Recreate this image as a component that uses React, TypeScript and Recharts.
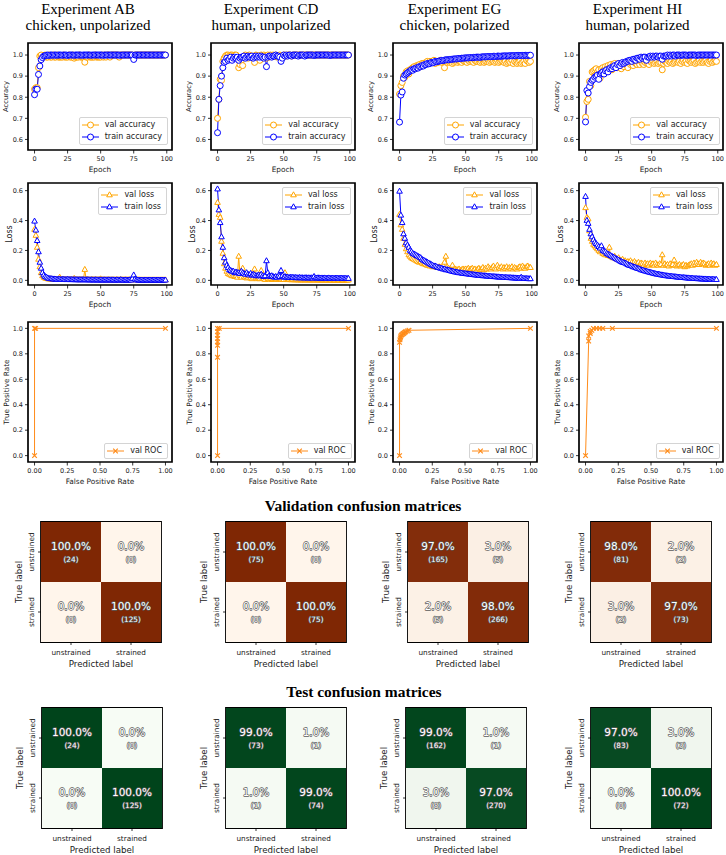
import React from "react";
import {
  LineChart,
  Line,
  XAxis,
  YAxis,
  Legend,
  ReferenceArea,
  BarChart,
  Bar,
  Cell,
  LabelList,
} from "recharts";

const FONT = "'DejaVu Sans', sans-serif";
const SERIF = "'Liberation Serif', 'Times New Roman', serif";
const VAL_COLOR = "#ffa500";
const TRAIN_COLOR = "#0000ff";
const ROC_COLOR = "#ff8c1a";

const experimentTitles = ["Experiment AB", "Experiment CD", "Experiment EG", "Experiment HI"];
const experimentSubtitles = ["chicken, unpolarized", "human, unpolarized", "chicken, polarized", "human, polarized"];

const epochTicks = [0, 25, 50, 75, 100];
const accuracyTicks = [0.6, 0.7, 0.8, 0.9, 1.0];
const lossTicks = [0, 0.2, 0.4, 0.6];
const tprTicks = [0, 0.2, 0.4, 0.6, 0.8, 1.0];
const fprTicks = [0, 0.25, 0.5, 0.75, 1.0];
const matrixLabels = ["unstrained", "strained"];

// ---- Experiment AB ----
const abValAcc = [
  0.838, 0.845, 0.845, 0.94, 0.995, 1.0, 0.99, 0.99, 1.0, 0.99,
  0.99, 1.0, 0.99, 0.99, 1.0, 0.99, 0.99, 1.0, 0.99, 0.99,
  0.99, 0.99, 1.0, 0.99, 0.99, 0.99, 1.0, 0.99, 0.99, 1.0,
  0.985, 0.99, 0.99, 0.99, 1.0, 0.99, 0.99, 0.99, 0.966, 0.99,
  0.99, 1.0, 0.99, 0.99, 0.99, 0.99, 1.0, 0.99, 0.99, 0.99,
  0.99, 1.0, 0.99, 1.0, 0.99, 1.0, 1.0, 0.99, 1.0, 1.0,
  1.0, 1.0, 1.0, 1.0, 0.99, 1.0, 1.0, 1.0, 1.0, 1.0,
  1.0, 1.0, 1.0, 1.0, 1.0, 0.99, 1.0, 1.0, 1.0, 1.0,
  1.0, 1.0, 1.0, 1.0, 1.0, 1.0, 1.0, 1.0, 1.0, 1.0,
  1.0, 1.0, 1.0, 1.0, 1.0, 1.0, 1.0, 1.0, 1.0, 1.0,
];
const abTrainAcc = [
  0.812, 0.838, 0.838, 0.908, 0.948, 0.978, 0.988, 0.995, 0.997, 0.999,
  1.0, 0.998, 1.0, 1.0, 0.999, 1.0, 1.0, 0.999, 1.0, 1.0,
  1.0, 0.999, 1.0, 1.0, 1.0, 0.998, 1.0, 1.0, 1.0, 1.0,
  0.999, 1.0, 1.0, 1.0, 1.0, 1.0, 0.999, 1.0, 1.0, 1.0,
  1.0, 1.0, 1.0, 0.999, 1.0, 1.0, 1.0, 1.0, 1.0, 1.0,
  1.0, 1.0, 0.999, 1.0, 1.0, 1.0, 1.0, 1.0, 1.0, 1.0,
  1.0, 1.0, 1.0, 1.0, 1.0, 0.999, 1.0, 1.0, 1.0, 1.0,
  1.0, 1.0, 1.0, 1.0, 1.0, 0.979, 1.0, 1.0, 1.0, 1.0,
  1.0, 1.0, 1.0, 1.0, 1.0, 1.0, 1.0, 1.0, 1.0, 1.0,
  1.0, 1.0, 1.0, 1.0, 1.0, 1.0, 1.0, 1.0, 1.0, 1.0,
];
const abValLoss = [
  0.34, 0.3, 0.22, 0.14, 0.09, 0.05, 0.03, 0.02, 0.015, 0.012,
  0.01, 0.008, 0.009, 0.008, 0.007, 0.008, 0.006, 0.007, 0.006, 0.02,
  0.008, 0.006, 0.006, 0.006, 0.005, 0.006, 0.005, 0.006, 0.005, 0.005,
  0.012, 0.005, 0.005, 0.004, 0.004, 0.005, 0.004, 0.005, 0.072, 0.006,
  0.005, 0.004, 0.004, 0.004, 0.005, 0.004, 0.004, 0.004, 0.004, 0.004,
  0.009, 0.004, 0.003, 0.004, 0.003, 0.003, 0.004, 0.003, 0.003, 0.003,
  0.003, 0.003, 0.004, 0.003, 0.003, 0.005, 0.003, 0.003, 0.003, 0.003,
  0.003, 0.003, 0.003, 0.003, 0.003, 0.01, 0.004, 0.003, 0.003, 0.003,
  0.002, 0.002, 0.002, 0.002, 0.002, 0.002, 0.002, 0.002, 0.002, 0.002,
  0.002, 0.002, 0.002, 0.002, 0.002, 0.002, 0.002, 0.002, 0.002, 0.002,
];
const abTrainLoss = [
  0.395, 0.335, 0.265, 0.19, 0.12, 0.08, 0.05, 0.035, 0.025, 0.02,
  0.015, 0.012, 0.01, 0.01, 0.008, 0.008, 0.007, 0.006, 0.006, 0.006,
  0.005, 0.006, 0.005, 0.005, 0.004, 0.006, 0.005, 0.004, 0.004, 0.004,
  0.004, 0.003, 0.004, 0.003, 0.003, 0.003, 0.004, 0.003, 0.003, 0.003,
  0.003, 0.003, 0.002, 0.003, 0.002, 0.002, 0.003, 0.002, 0.002, 0.002,
  0.002, 0.002, 0.002, 0.002, 0.002, 0.002, 0.002, 0.002, 0.002, 0.002,
  0.002, 0.001, 0.002, 0.002, 0.001, 0.003, 0.002, 0.001, 0.001, 0.002,
  0.001, 0.001, 0.002, 0.001, 0.012, 0.035, 0.008, 0.002, 0.001, 0.001,
  0.001, 0.001, 0.001, 0.001, 0.001, 0.001, 0.001, 0.001, 0.001, 0.001,
  0.001, 0.001, 0.001, 0.001, 0.001, 0.001, 0.001, 0.001, 0.001, 0.001,
];
const abRocFpr = [0, 0, 0.008, 1];
const abRocTpr = [0, 1, 1, 1];

// ---- Experiment CD ----
const cdValAcc = [
  0.7, 0.79, 0.885, 0.88, 0.97, 0.985, 0.995, 1.0, 1.0, 0.995,
  1.0, 1.0, 0.995, 1.0, 1.0, 0.985, 0.94, 0.955, 0.975, 0.95,
  0.99, 1.0, 0.995, 0.985, 1.0, 0.99, 0.995, 0.99, 0.965, 1.0,
  0.995, 0.99, 0.975, 1.0, 0.99, 1.0, 0.995, 0.985, 1.0, 0.99,
  1.0, 0.995, 1.0, 0.995, 1.0, 0.99, 0.995, 1.0, 0.99, 0.995,
  1.0, 1.0, 0.995, 1.0, 1.0, 1.0, 0.995, 1.0, 1.0, 1.0,
  1.0, 1.0, 1.0, 1.0, 1.0, 1.0, 1.0, 1.0, 1.0, 1.0,
  1.0, 1.0, 1.0, 1.0, 1.0, 1.0, 1.0, 1.0, 1.0, 1.0,
  1.0, 1.0, 1.0, 1.0, 1.0, 1.0, 1.0, 1.0, 1.0, 1.0,
  1.0, 1.0, 1.0, 1.0, 1.0, 1.0, 1.0, 1.0, 1.0, 1.0,
];
const cdTrainAcc = [
  0.632, 0.79, 0.855, 0.9, 0.94, 0.965, 0.97, 0.985, 0.975, 0.98,
  0.99, 0.975, 0.985, 0.99, 0.985, 0.99, 0.975, 0.985, 0.99, 0.99,
  0.995, 0.985, 0.99, 0.995, 0.99, 0.99, 0.995, 0.985, 0.99, 0.995,
  0.99, 0.995, 0.99, 0.995, 0.99, 0.985, 0.99, 0.945, 0.99, 0.995,
  0.995, 0.99, 0.995, 0.995, 1.0, 0.995, 0.995, 0.99, 0.97, 0.985,
  1.0, 0.995, 1.0, 0.995, 1.0, 1.0, 0.995, 1.0, 1.0, 1.0,
  1.0, 0.995, 1.0, 1.0, 1.0, 1.0, 0.995, 1.0, 1.0, 1.0,
  1.0, 1.0, 1.0, 0.998, 1.0, 1.0, 1.0, 1.0, 1.0, 1.0,
  1.0, 1.0, 1.0, 1.0, 1.0, 0.998, 1.0, 1.0, 1.0, 1.0,
  1.0, 1.0, 1.0, 1.0, 1.0, 1.0, 1.0, 1.0, 1.0, 1.0,
];
const cdValLoss = [
  0.52, 0.44, 0.42, 0.26, 0.18, 0.11, 0.08, 0.06, 0.045, 0.04,
  0.035, 0.03, 0.03, 0.025, 0.03, 0.02, 0.16, 0.03, 0.02, 0.08,
  0.025, 0.02, 0.015, 0.02, 0.03, 0.015, 0.01, 0.02, 0.075, 0.015,
  0.01, 0.015, 0.01, 0.065, 0.015, 0.01, 0.005, 0.02, 0.01, 0.008,
  0.01, 0.005, 0.008, 0.01, 0.005, 0.006, 0.01, 0.005, 0.008, 0.005,
  0.005, 0.05, 0.005, 0.004, 0.006, 0.004, 0.003, 0.004, 0.003, 0.003,
  0.003, 0.002, 0.003, 0.002, 0.003, 0.002, 0.002, 0.003, 0.002, 0.002,
  0.002, 0.002, 0.003, 0.002, 0.002, 0.002, 0.002, 0.002, 0.001, 0.002,
  0.002, 0.001, 0.002, 0.001, 0.001, 0.002, 0.001, 0.001, 0.001, 0.001,
  0.001, 0.001, 0.001, 0.001, 0.001, 0.001, 0.001, 0.001, 0.001, 0.001,
];
const cdTrainLoss = [
  0.61, 0.47, 0.385, 0.29, 0.22, 0.15, 0.12, 0.1, 0.085, 0.07,
  0.065, 0.06, 0.06, 0.05, 0.055, 0.05, 0.05, 0.045, 0.06, 0.05,
  0.045, 0.04, 0.05, 0.04, 0.035, 0.045, 0.035, 0.04, 0.035, 0.03,
  0.03, 0.035, 0.03, 0.04, 0.03, 0.025, 0.03, 0.13, 0.05, 0.03,
  0.025, 0.03, 0.025, 0.02, 0.025, 0.02, 0.03, 0.025, 0.065, 0.03,
  0.02, 0.025, 0.02, 0.02, 0.018, 0.02, 0.018, 0.02, 0.017, 0.018,
  0.017, 0.016, 0.018, 0.016, 0.017, 0.015, 0.016, 0.017, 0.015, 0.016,
  0.015, 0.016, 0.015, 0.025, 0.015, 0.014, 0.016, 0.015, 0.014, 0.015,
  0.014, 0.015, 0.014, 0.013, 0.015, 0.014, 0.013, 0.014, 0.013, 0.014,
  0.013, 0.014, 0.013, 0.013, 0.014, 0.013, 0.012, 0.013, 0.012, 0.012,
];
const cdRocFpr = [0, 0, 0, 0, 0, 0, 0, 0, 0.013, 1];
const cdRocTpr = [0, 0.773, 0.867, 0.893, 0.92, 0.947, 0.973, 1, 1, 1];

// ---- Experiment EG ----
const egValAcc = [
  0.815, 0.855, 0.87, 0.9, 0.895, 0.92, 0.925, 0.91, 0.93, 0.935,
  0.94, 0.945, 0.935, 0.95, 0.95, 0.955, 0.945, 0.96, 0.96, 0.955,
  0.965, 0.97, 0.96, 0.97, 0.965, 0.97, 0.975, 0.96, 0.97, 0.965,
  0.97, 0.975, 0.965, 0.97, 0.94, 0.975, 0.965, 0.97, 0.965, 0.97,
  0.96, 0.965, 0.97, 0.975, 0.965, 0.97, 0.97, 0.965, 0.975, 0.97,
  0.97, 0.965, 0.975, 0.97, 0.975, 0.97, 0.965, 0.975, 0.97, 0.97,
  0.975, 0.965, 0.97, 0.975, 0.965, 0.97, 0.97, 0.975, 0.965, 0.97,
  0.975, 0.97, 0.965, 0.97, 0.975, 0.965, 0.97, 0.975, 0.97, 0.965,
  0.97, 0.96, 0.965, 0.97, 0.965, 0.975, 0.96, 0.97, 0.965, 0.96,
  0.965, 0.97, 0.96, 0.965, 0.97, 0.96, 0.975, 0.97, 0.965, 0.97,
];
const egTrainAcc = [
  0.682, 0.81, 0.825, 0.89, 0.905, 0.91, 0.915, 0.92, 0.925, 0.93,
  0.928, 0.935, 0.935, 0.94, 0.938, 0.945, 0.945, 0.95, 0.948, 0.955,
  0.955, 0.96, 0.958, 0.96, 0.965, 0.963, 0.965, 0.97, 0.968, 0.97,
  0.972, 0.973, 0.975, 0.974, 0.976, 0.977, 0.978, 0.977, 0.979, 0.98,
  0.98, 0.981, 0.982, 0.981, 0.983, 0.984, 0.983, 0.985, 0.985, 0.986,
  0.986, 0.987, 0.986, 0.988, 0.988, 0.987, 0.989, 0.989, 0.99, 0.99,
  0.99, 0.989, 0.991, 0.991, 0.992, 0.991, 0.992, 0.993, 0.993, 0.992,
  0.993, 0.994, 0.994, 0.993, 0.995, 0.995, 0.994, 0.995, 0.995, 0.996,
  0.996, 0.995, 0.996, 0.996, 0.997, 0.996, 0.997, 0.997, 0.996, 0.998,
  0.998, 0.997, 0.998, 0.998, 0.997, 0.999, 0.998, 0.998, 0.999, 0.999,
];
const egValLoss = [
  0.44, 0.37, 0.34, 0.28, 0.24, 0.21, 0.19, 0.17, 0.16, 0.15,
  0.145, 0.14, 0.135, 0.13, 0.125, 0.12, 0.125, 0.115, 0.11, 0.11,
  0.105, 0.1, 0.1, 0.095, 0.1, 0.09, 0.095, 0.09, 0.088, 0.085,
  0.09, 0.085, 0.08, 0.1, 0.12, 0.16, 0.09, 0.08, 0.075, 0.07,
  0.1, 0.07, 0.075, 0.07, 0.07, 0.075, 0.065, 0.07, 0.075, 0.07,
  0.075, 0.07, 0.08, 0.07, 0.075, 0.08, 0.07, 0.075, 0.065, 0.075,
  0.08, 0.07, 0.075, 0.085, 0.07, 0.08, 0.075, 0.09, 0.08, 0.075,
  0.085, 0.095, 0.08, 0.075, 0.1, 0.085, 0.08, 0.09, 0.075, 0.085,
  0.08, 0.09, 0.075, 0.085, 0.08, 0.09, 0.075, 0.085, 0.08, 0.075,
  0.085, 0.09, 0.08, 0.095, 0.085, 0.08, 0.09, 0.095, 0.085, 0.085,
];
const egTrainLoss = [
  0.595, 0.435, 0.385, 0.31, 0.28, 0.25, 0.235, 0.22, 0.2, 0.19,
  0.18, 0.175, 0.17, 0.165, 0.16, 0.155, 0.15, 0.14, 0.135, 0.13,
  0.125, 0.12, 0.115, 0.11, 0.105, 0.1, 0.095, 0.095, 0.09, 0.085,
  0.085, 0.08, 0.08, 0.075, 0.075, 0.07, 0.07, 0.068, 0.065, 0.062,
  0.06, 0.058, 0.055, 0.055, 0.052, 0.05, 0.05, 0.048, 0.046, 0.045,
  0.044, 0.043, 0.042, 0.04, 0.04, 0.038, 0.037, 0.036, 0.035, 0.034,
  0.033, 0.032, 0.031, 0.03, 0.03, 0.029, 0.028, 0.027, 0.026, 0.026,
  0.025, 0.024, 0.024, 0.023, 0.022, 0.022, 0.021, 0.02, 0.02, 0.019,
  0.019, 0.018, 0.018, 0.017, 0.017, 0.016, 0.016, 0.015, 0.015, 0.014,
  0.014, 0.013, 0.02, 0.013, 0.012, 0.012, 0.011, 0.011, 0.01, 0.01,
];
const egRocFpr = [0, 0, 0.003, 0.006, 0.009, 0.012, 0.018, 0.024, 0.03, 0.036, 0.042, 0.048, 0.06, 0.072, 1];
const egRocTpr = [0, 0.89, 0.91, 0.925, 0.935, 0.945, 0.95, 0.955, 0.96, 0.965, 0.97, 0.975, 0.98, 0.985, 1];

// ---- Experiment HI ----
const hiValAcc = [
  0.705, 0.78, 0.79, 0.875, 0.855, 0.92, 0.925, 0.93, 0.935, 0.92,
  0.93, 0.89, 0.935, 0.94, 0.93, 0.945, 0.935, 0.95, 0.94, 0.955,
  0.93, 0.955, 0.96, 0.95, 0.94, 0.96, 0.955, 0.935, 0.96, 0.945,
  0.955, 0.96, 0.94, 0.965, 0.955, 0.96, 0.95, 0.965, 0.96, 0.955,
  0.965, 0.955, 0.97, 0.96, 0.955, 0.965, 0.97, 0.96, 0.955, 0.97,
  0.965, 0.97, 0.96, 0.965, 0.97, 0.96, 0.965, 0.965, 0.93, 0.96,
  0.97, 0.965, 0.96, 0.97, 0.965, 0.97, 0.96, 0.965, 0.97, 0.975,
  0.965, 0.97, 0.96, 0.97, 0.975, 0.965, 0.97, 0.96, 0.975, 0.97,
  0.965, 0.97, 0.975, 0.96, 0.965, 0.97, 0.975, 0.965, 0.97, 0.965,
  0.97, 0.975, 0.965, 0.96, 0.97, 0.975, 0.965, 0.97, 0.975, 0.97,
];
const hiTrainAcc = [
  0.683, 0.832, 0.82, 0.85, 0.87, 0.88, 0.885, 0.895, 0.9, 0.905,
  0.885, 0.91, 0.915, 0.92, 0.91, 0.925, 0.93, 0.92, 0.935, 0.94,
  0.935, 0.945, 0.95, 0.94, 0.955, 0.96, 0.95, 0.96, 0.965, 0.96,
  0.965, 0.97, 0.97, 0.975, 0.975, 0.97, 0.98, 0.98, 0.975, 0.985,
  0.985, 0.98, 0.99, 0.985, 0.99, 0.99, 0.975, 0.99, 0.99, 0.995,
  0.99, 0.995, 0.99, 0.995, 0.995, 0.99, 0.995, 0.995, 0.98, 0.995,
  0.995, 0.995, 1.0, 0.995, 1.0, 0.995, 1.0, 1.0, 0.995, 1.0,
  1.0, 1.0, 0.998, 1.0, 1.0, 1.0, 1.0, 0.998, 1.0, 1.0,
  1.0, 1.0, 1.0, 1.0, 0.998, 1.0, 1.0, 1.0, 1.0, 1.0,
  1.0, 1.0, 1.0, 1.0, 1.0, 1.0, 1.0, 1.0, 1.0, 1.0,
];
const hiValLoss = [
  0.485, 0.42, 0.41, 0.33, 0.28, 0.26, 0.24, 0.23, 0.22, 0.21,
  0.2, 0.19, 0.2, 0.18, 0.175, 0.17, 0.18, 0.165, 0.22, 0.16,
  0.155, 0.15, 0.16, 0.145, 0.14, 0.15, 0.135, 0.13, 0.14, 0.125,
  0.13, 0.12, 0.125, 0.115, 0.13, 0.12, 0.11, 0.125, 0.115, 0.11,
  0.12, 0.105, 0.115, 0.11, 0.1, 0.115, 0.105, 0.11, 0.1, 0.115,
  0.105, 0.11, 0.1, 0.115, 0.105, 0.1, 0.11, 0.105, 0.17, 0.1,
  0.11, 0.1, 0.105, 0.095, 0.11, 0.1, 0.105, 0.135, 0.1, 0.095,
  0.1, 0.105, 0.095, 0.1, 0.105, 0.09, 0.1, 0.095, 0.1, 0.105,
  0.11, 0.1, 0.115, 0.105, 0.12, 0.11, 0.105, 0.12, 0.11, 0.115,
  0.11, 0.1, 0.105, 0.11, 0.1, 0.115, 0.105, 0.11, 0.1, 0.105,
];
const hiTrainLoss = [
  0.56, 0.4, 0.38, 0.34, 0.31, 0.29, 0.27, 0.255, 0.245, 0.235,
  0.225, 0.215, 0.23, 0.2, 0.195, 0.19, 0.18, 0.175, 0.17, 0.165,
  0.16, 0.155, 0.15, 0.145, 0.14, 0.135, 0.13, 0.125, 0.12, 0.118,
  0.115, 0.11, 0.105, 0.1, 0.098, 0.095, 0.09, 0.088, 0.085, 0.08,
  0.078, 0.075, 0.07, 0.068, 0.065, 0.062, 0.06, 0.057, 0.055, 0.052,
  0.05, 0.048, 0.045, 0.043, 0.041, 0.04, 0.038, 0.036, 0.035, 0.033,
  0.032, 0.03, 0.029, 0.028, 0.027, 0.026, 0.025, 0.024, 0.023, 0.022,
  0.021, 0.02, 0.019, 0.018, 0.018, 0.017, 0.016, 0.015, 0.015, 0.014,
  0.013, 0.013, 0.012, 0.011, 0.011, 0.01, 0.01, 0.009, 0.009, 0.008,
  0.008, 0.008, 0.007, 0.007, 0.007, 0.006, 0.006, 0.006, 0.005, 0.005,
];
const hiRocFpr = [0, 0.024, 0.024, 0.036, 0.036, 0.048, 0.06, 0.084, 0.108, 0.132, 0.205, 1];
const hiRocTpr = [0, 0.9, 0.94, 0.96, 0.975, 0.985, 1, 1, 1, 1, 1, 1];

// ---- Confusion matrices (rows: true unstrained / strained, cols: predicted) ----
const valPercents = [
  [[100, 0], [0, 100]],
  [[100, 0], [0, 100]],
  [[97, 3], [2, 98]],
  [[98, 2], [3, 97]],
];
const valCounts = [
  [[24, 0], [0, 125]],
  [[75, 0], [0, 75]],
  [[165, 5], [5, 266]],
  [[81, 2], [2, 73]],
];
const testPercents = [
  [[100, 0], [0, 100]],
  [[99, 1], [1, 99]],
  [[99, 1], [3, 97]],
  [[97, 3], [0, 100]],
];
const testCounts = [
  [[24, 0], [0, 125]],
  [[73, 1], [1, 74]],
  [[162, 1], [8, 270]],
  [[83, 3], [0, 72]],
];

const valAcc = [abValAcc, cdValAcc, egValAcc, hiValAcc];
const trainAcc = [abTrainAcc, cdTrainAcc, egTrainAcc, hiTrainAcc];
const valLoss = [abValLoss, cdValLoss, egValLoss, hiValLoss];
const trainLoss = [abTrainLoss, cdTrainLoss, egTrainLoss, hiTrainLoss];
const rocFpr = [abRocFpr, cdRocFpr, egRocFpr, hiRocFpr];
const rocTpr = [abRocTpr, cdRocTpr, egRocTpr, hiRocTpr];

// layout
const COL_LEFT = [27.5, 211, 392.5, 579];
const TITLE_X = [88, 271, 454.5, 637.5];
const PLOT_W = 144;
const AXIS_W = 32;
const PAD_T = 4;
const PAD_R = 8;
const AXIS_H = 26;
const EPOCH_DOMAIN: [number, number] = [-4.95, 103.95];
const RATE_DOMAIN: [number, number] = [-0.05, 1.05];

const VAL_MATRIX_LEFT = [41, 226, 408, 591];
const TEST_MATRIX_LEFT = [41.5, 226, 405.5, 591];
const CELL = 60;

const TICK = { fontSize: 6.5, fill: "#222", fontFamily: FONT };
const TICK_LINE = { stroke: "#000", strokeWidth: 0.8 };

type Series = { key: string; name: string; color: string; marker: string };

function marker(kind: string, cx: number, cy: number, color: string, key?: React.Key) {
  if (kind === "circle") {
    return <circle key={key} cx={cx} cy={cy} r={3} fill="#fff" stroke={color} strokeWidth={1} />;
  }
  if (kind === "triangle") {
    return (
      <polygon
        key={key}
        points={`${cx},${cy - 3.2} ${cx - 2.8},${cy + 1.8} ${cx + 2.8},${cy + 1.8}`}
        fill="#fff"
        stroke={color}
        strokeWidth={1}
      />
    );
  }
  return (
    <path
      key={key}
      d={`M${cx - 2.3},${cy - 2.3}L${cx + 2.3},${cy + 2.3}M${cx - 2.3},${cy + 2.3}L${cx + 2.3},${cy - 2.3}`}
      stroke={color}
      strokeWidth={1.2}
      fill="none"
    />
  );
}

const dotRenderer = (kind: string, color: string) => (p: any) =>
  p.cx == null ? <g key={p.index} /> : marker(kind, p.cx, p.cy, color, p.index);

function LegendBox({ items }: { items: Series[] }) {
  return (
    <div
      style={{
        background: "rgba(255,255,255,0.85)",
        border: "1px solid #d4d4d4",
        borderRadius: 2,
        padding: "1px 5px 1px 2px",
        fontFamily: FONT,
        fontSize: 8,
        color: "#222",
        lineHeight: "12px",
      }}
    >
      {items.map((it) => (
        <div key={it.key} style={{ display: "flex", alignItems: "center", whiteSpace: "nowrap" }}>
          <svg width={17} height={8} style={{ marginRight: 6, overflow: "visible" }}>
            <line x1={0} y1={4} x2={17} y2={4} stroke={it.color} strokeWidth={1} />
            {marker(it.marker, 8.5, 4, it.color)}
          </svg>
          <span>{it.name}</span>
        </div>
      ))}
    </div>
  );
}

type PanelProps = {
  left: number;
  top: number;
  plotH: number;
  data: any[];
  xKey: string;
  xDomain: [number, number];
  xTicks: number[];
  xFmt: (v: number) => string;
  xTitle: string;
  yDomain: [number, number];
  yTicks: number[];
  yFmt: (v: number) => string;
  yTitle: string;
  yTitleGap: number;
  yTitleSize: number;
  series: Series[];
  legendStyle: React.CSSProperties;
};

function CurvePanel(props: PanelProps) {
  const { left, top, plotH, data, xKey, xDomain, xTicks, xFmt, xTitle, yDomain, yTicks, yFmt, yTitle, yTitleGap, yTitleSize, series, legendStyle } = props;
  return (
    <div style={{ position: "absolute", left: left - AXIS_W, top: top - PAD_T }}>
      <LineChart
        width={AXIS_W + PLOT_W + PAD_R}
        height={PAD_T + plotH + AXIS_H}
        data={data}
        margin={{ top: PAD_T, right: PAD_R, bottom: 0, left: 0 }}
      >
        <XAxis
          dataKey={xKey}
          type="number"
          domain={xDomain}
          ticks={xTicks}
          interval={0}
          allowDataOverflow
          height={AXIS_H}
          tickSize={3.5}
          tickMargin={2.5}
          tickFormatter={xFmt}
          tick={TICK}
          axisLine={false}
          tickLine={TICK_LINE}
          label={{
            content: (p: any) => (
              <text
                x={p.viewBox.x + p.viewBox.width / 2}
                y={p.viewBox.y + 19}
                textAnchor="middle"
                dominantBaseline="central"
                fontFamily={FONT}
                fontSize={7.4}
                fill="#222"
              >
                {xTitle}
              </text>
            ),
          }}
        />
        <YAxis
          type="number"
          domain={yDomain}
          ticks={yTicks}
          interval={0}
          allowDataOverflow
          width={AXIS_W}
          tickSize={3}
          tickMargin={2}
          tickFormatter={yFmt}
          tick={TICK}
          axisLine={false}
          tickLine={TICK_LINE}
          label={{
            content: (p: any) => {
              const x = p.viewBox.x + p.viewBox.width - yTitleGap;
              const y = p.viewBox.y + p.viewBox.height / 2;
              return (
                <text
                  x={x}
                  y={y}
                  transform={`rotate(-90 ${x} ${y})`}
                  textAnchor="middle"
                  dominantBaseline="central"
                  fontFamily={FONT}
                  fontSize={yTitleSize}
                  fill="#222"
                >
                  {yTitle}
                </text>
              );
            },
          }}
        />
        {series.map((s) => (
          <Line
            key={s.key}
            dataKey={s.key}
            name={s.name}
            type="linear"
            stroke={s.color}
            strokeWidth={1}
            dot={dotRenderer(s.marker, s.color)}
            activeDot={false}
            isAnimationActive={false}
          />
        ))}
        <ReferenceArea
          x1={xDomain[0]}
          x2={xDomain[1]}
          y1={yDomain[0]}
          y2={yDomain[1]}
          ifOverflow="visible"
          fill="none"
          stroke="#000"
          strokeWidth={1.7}
        />
        <Legend
          layout="horizontal"
          verticalAlign="middle"
          align="center"
          wrapperStyle={{ ...legendStyle, width: "auto", height: "auto" }}
          content={() => <LegendBox items={series} />}
        />
      </LineChart>
    </div>
  );
}

const fmt1 = (v: number) => v.toFixed(1);
const fmt2 = (v: number) => v.toFixed(2);
const fmt0 = (v: number) => String(v);

function mix(a: string, b: string, t: number) {
  const pa = [1, 3, 5].map((i) => parseInt(a.slice(i, i + 2), 16));
  const pb = [1, 3, 5].map((i) => parseInt(b.slice(i, i + 2), 16));
  const c = pa.map((v, i) => Math.round(v + (pb[i] - v) * t));
  return `rgb(${c[0]},${c[1]},${c[2]})`;
}

const cellText = (rowPct: number[], rowCount: number[]) => (p: any) => {
  const vb = p.viewBox || {};
  const x = Number(p.x ?? vb.x);
  const y = Number(p.y ?? vb.y);
  const w = Number(p.width ?? vb.width);
  const h = Number(p.height ?? vb.height);
  const cx = x + w / 2;
  const cy = y + h / 2;
  const i = p.index;
  const style = {
    fill: "#fff",
    stroke: "#5a5a5a",
    strokeWidth: 1.3,
    paintOrder: "stroke" as const,
    strokeLinejoin: "round" as const,
    fontFamily: FONT,
  };
  return (
    <g key={`t-${i}`}>
      <text x={cx} y={cy - 6.3} textAnchor="middle" dominantBaseline="central" fontSize={10.5} style={style}>
        {rowPct[i].toFixed(1)}%
      </text>
      <text x={cx} y={cy + 7} textAnchor="middle" dominantBaseline="central" fontSize={7.3} style={style}>
        ({rowCount[i]})
      </text>
    </g>
  );
};

const matrixYTick = (p: any) => (
  <text
    x={p.x}
    y={p.y}
    transform={`rotate(-90 ${p.x} ${p.y})`}
    textAnchor="middle"
    dominantBaseline="central"
    fontSize={7.3}
    fontFamily={FONT}
    fill="#222"
  >
    {p.payload.value > 1 ? matrixLabels[0] : matrixLabels[1]}
  </text>
);

const M_AXIS_W = 42;
const M_AXIS_H = 32;
const M_PAD = 4;

function MatrixPanel({ left, top, pct, counts, dark, light }: { left: number; top: number; pct: number[][]; counts: number[][]; dark: string; light: string }) {
  const data = matrixLabels.map((pred) => ({ pred, strained: 1, unstrained: 1 }));
  return (
    <div style={{ position: "absolute", left: left - M_AXIS_W, top: top - M_PAD }}>
      <BarChart
        width={M_AXIS_W + CELL * 2 + M_PAD}
        height={M_PAD + CELL * 2 + M_AXIS_H}
        data={data}
        margin={{ top: M_PAD, right: M_PAD, bottom: 0, left: 0 }}
        barCategoryGap={0}
        barGap={0}
      >
        <XAxis
          dataKey="pred"
          type="category"
          height={M_AXIS_H}
          tickSize={3}
          tickMargin={4.5}
          tick={{ fontSize: 7.3, fill: "#222", fontFamily: FONT }}
          axisLine={false}
          tickLine={TICK_LINE}
          label={{
            content: (p: any) => (
              <text
                x={p.viewBox.x + p.viewBox.width / 2}
                y={p.viewBox.y + 22.3}
                textAnchor="middle"
                dominantBaseline="central"
                fontFamily={FONT}
                fontSize={8.7}
                fill="#222"
              >
                Predicted label
              </text>
            ),
          }}
        />
        <YAxis
          type="number"
          domain={[0, 2]}
          ticks={[0.5, 1.5]}
          interval={0}
          width={M_AXIS_W}
          tickSize={3}
          tickMargin={6.3}
          tick={matrixYTick}
          axisLine={false}
          tickLine={TICK_LINE}
          label={{
            content: (p: any) => {
              const x = p.viewBox.x + p.viewBox.width - 22;
              const y = p.viewBox.y + p.viewBox.height / 2;
              return (
                <text
                  x={x}
                  y={y}
                  transform={`rotate(-90 ${x} ${y})`}
                  textAnchor="middle"
                  dominantBaseline="central"
                  fontFamily={FONT}
                  fontSize={8.7}
                  fill="#222"
                >
                  True label
                </text>
              );
            },
          }}
        />
        <Bar dataKey="strained" stackId="cm" isAnimationActive={false}>
          {data.map((_, j) => (
            <Cell key={j} fill={mix(light, dark, pct[1][j] / 100)} />
          ))}
          <LabelList dataKey="strained" content={cellText(pct[1], counts[1])} />
        </Bar>
        <Bar dataKey="unstrained" stackId="cm" isAnimationActive={false}>
          {data.map((_, j) => (
            <Cell key={j} fill={mix(light, dark, pct[0][j] / 100)} />
          ))}
          <LabelList dataKey="unstrained" content={cellText(pct[0], counts[0])} />
        </Bar>
        <ReferenceArea y1={0} y2={2} ifOverflow="visible" fill="none" stroke="#000" strokeWidth={1.8} />
      </BarChart>
    </div>
  );
}

const accSeries: Series[] = [
  { key: "val", name: "val accuracy", color: VAL_COLOR, marker: "circle" },
  { key: "train", name: "train accuracy", color: TRAIN_COLOR, marker: "circle" },
];
const lossSeries: Series[] = [
  { key: "val", name: "val loss", color: VAL_COLOR, marker: "triangle" },
  { key: "train", name: "train loss", color: TRAIN_COLOR, marker: "triangle" },
];
const rocSeries: Series[] = [{ key: "tpr", name: "val ROC", color: ROC_COLOR, marker: "cross" }];

export default function App() {
  return (
    <div style={{ position: "absolute", left: 0, top: 0, width: 726, height: 855, background: "#fff", overflow: "hidden" }}>
      <svg width={726} height={855} style={{ position: "absolute", left: 0, top: 0 }}>
        {experimentTitles.map((t, i) => (
          <text key={t} x={TITLE_X[i]} y={14} textAnchor="middle" fontFamily={SERIF} fontSize={15} fill="#000">
            {t}
          </text>
        ))}
        {experimentSubtitles.map((t, i) => (
          <text key={t} x={TITLE_X[i]} y={29.5} textAnchor="middle" fontFamily={SERIF} fontSize={15} fill="#000">
            {t}
          </text>
        ))}
        <text x={363} y={511} textAnchor="middle" fontFamily={SERIF} fontWeight="bold" fontSize={15.5} fill="#000">
          Validation confusion matrices
        </text>
        <text x={364} y={697} textAnchor="middle" fontFamily={SERIF} fontWeight="bold" fontSize={15.5} fill="#000">
          Test confusion matrices
        </text>
      </svg>

      {COL_LEFT.map((left, c) => (
        <React.Fragment key={c}>
          <CurvePanel
            left={left}
            top={43}
            plotH={107}
            data={valAcc[c].map((v, i) => ({ epoch: i, val: v, train: trainAcc[c][i] }))}
            xKey="epoch"
            xDomain={EPOCH_DOMAIN}
            xTicks={epochTicks}
            xFmt={fmt0}
            xTitle="Epoch"
            yDomain={[0.55, 1.057]}
            yTicks={accuracyTicks}
            yFmt={fmt1}
            yTitle="Accuracy"
            yTitleGap={22}
            yTitleSize={6.8}
            series={accSeries}
            legendStyle={{ right: PAD_R + 3.5, bottom: AXIS_H + 5 }}
          />
          <CurvePanel
            left={left}
            top={183}
            plotH={102}
            data={valLoss[c].map((v, i) => ({ epoch: i, val: v, train: trainLoss[c][i] }))}
            xKey="epoch"
            xDomain={EPOCH_DOMAIN}
            xTicks={epochTicks}
            xFmt={fmt0}
            xTitle="Epoch"
            yDomain={[-0.031, 0.651]}
            yTicks={lossTicks}
            yFmt={fmt1}
            yTitle="Loss"
            yTitleGap={18.5}
            yTitleSize={8}
            series={lossSeries}
            legendStyle={{ right: PAD_R + 4.5, top: PAD_T + 4 }}
          />
          <CurvePanel
            left={left}
            top={322}
            plotH={140}
            data={rocFpr[c].map((f, i) => ({ fpr: f, tpr: rocTpr[c][i] }))}
            xKey="fpr"
            xDomain={RATE_DOMAIN}
            xTicks={fprTicks}
            xFmt={fmt2}
            xTitle="False Positive Rate"
            yDomain={RATE_DOMAIN}
            yTicks={tprTicks}
            yFmt={fmt1}
            yTitle="True Positive Rate"
            yTitleGap={21.5}
            yTitleSize={7.3}
            series={rocSeries}
            legendStyle={{ right: PAD_R + 3.5, bottom: AXIS_H + 3 }}
          />
        </React.Fragment>
      ))}

      {VAL_MATRIX_LEFT.map((left, i) => (
        <MatrixPanel
          key={`v${i}`}
          left={left}
          top={522}
          pct={valPercents[i]}
          counts={valCounts[i]}
          dark="#7f2704"
          light="#fff5eb"
        />
      ))}
      {TEST_MATRIX_LEFT.map((left, i) => (
        <MatrixPanel
          key={`t${i}`}
          left={left}
          top={708}
          pct={testPercents[i]}
          counts={testCounts[i]}
          dark="#00441b"
          light="#f7fcf5"
        />
      ))}
    </div>
  );
}
